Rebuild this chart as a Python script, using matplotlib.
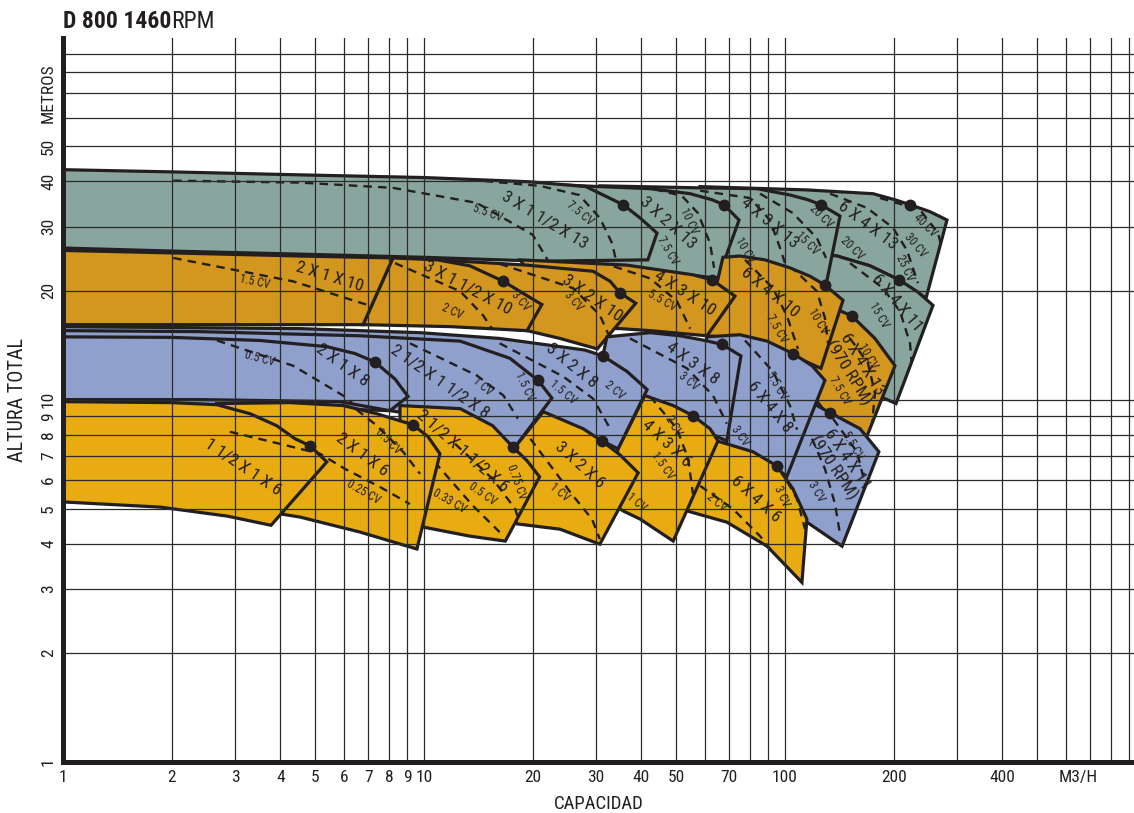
import matplotlib
matplotlib.use("Agg")
import matplotlib.pyplot as plt
from matplotlib.patches import Polygon
from matplotlib.ticker import NullLocator
from matplotlib import font_manager

_names = {f.name for f in font_manager.fontManager.ttflist}
NARROW = "DejaVu Sans"
for cand in ["Liberation Sans Narrow", "Roboto Condensed", "Open Sans Condensed", "Liberation Sans"]:
    if cand in _names:
        NARROW = cand
        break
plt.rcParams["font.family"] = [NARROW, "DejaVu Sans"]

INK = "#231f20"
GRAY = "#89a69e"
GOLD = "#d3961f"
BLUE = "#8ea0cb"
YELLOW = "#e8ac12"

# ---------------- pump coverage regions (Q m3/h, H m) ----------------
# gray row (13" impellers)
q_g_6x4x13 = [58.2, 115, 175.3, 201.7, 222, 252.2, 281, 245.8, 207, 172, 139.4, 96.9, 58.2]
h_g_6x4x13 = [38.7, 37.9, 37.0, 35.6, 34.5, 33.0, 31.3, 19.05, 21.4, 23.4, 24.9, 26.2, 26.2]
q_g_6x4x11 = [103, 139.4, 172, 207, 233.5, 257, 203, 151.4, 117.3, 103]
h_g_6x4x11 = [25.8, 24.9, 23.4, 21.4, 19.8, 18.2, 9.75, 11.1, 13.0, 14.75]
q_g_4x3x13 = [30.7, 58.2, 83.6, 103.2, 115.8, 125.8, 142, 129.9, 85.3, 58.2, 30.7]
h_g_4x3x13 = [38.9, 38.4, 38.2, 36.7, 35.6, 34.5, 32.1, 20.7, 24.3, 24.3, 24.3]
q_g_3x2x13 = [20.9, 30.7, 42.3, 54.6, 62.8, 67.7, 74.6, 65.2, 42.3, 20.9]
h_g_3x2x13 = [39.4, 38.7, 38.2, 37.0, 35.6, 34.5, 31.3, 21.6, 22.8, 24.0]
q_g_3x15x13 = [1, 2, 4.54, 10, 19.7, 28.1, 31.7, 35.6, 39.7, 44.2, 41.7, 20.9, 10, 4.54, 2, 1]
h_g_3x15x13 = [43.1, 42.5, 41.7, 41.0, 39.9, 38.7, 36.5, 34.5, 31.7, 28.8, 24.3, 24.1, 24.7, 25.2, 25.7, 26.2]

# gold row (10" impellers)
q_a_6x4x13r = [133.3, 153.3, 177.5, 201.7, 167.6, 133.3, 121.1, 121.1]
h_a_6x4x13r = [18.1, 17.0, 14.75, 12.4, 7.80, 8.86, 10.06, 15.7]
q_a_6x4x10 = [67.3, 75, 88, 103.2, 117.3, 129, 144.8, 125.8, 96.9, 75, 60.8, 62.8, 65.2]
h_a_6x4x10 = [24.7, 24.9, 24.3, 23.1, 21.9, 20.7, 18.8, 12.2, 13.7, 14.75, 15.0, 19.05, 21.5]
q_a_4x3x10 = [18.5, 23.8, 36.5, 55.6, 62.8, 72.7, 60.8, 42.3, 34.9, 23.8]
h_a_4x3x10 = [24.3, 24.0, 23.5, 22.1, 21.4, 19.3, 15.0, 15.5, 15.7, 15.9]
q_a_3x2x10 = [10.9, 19.3, 29.4, 32.8, 34.9, 38.6, 30.2, 23.8, 19.3, 14.3]
h_a_3x2x10 = [24.3, 23.5, 22.6, 21.2, 19.7, 18.45, 13.8, 14.75, 15.5, 15.9]
q_a_3x15x10 = [8.2, 10.9, 13.4, 16.6, 19.05, 21.2, 19.3, 11.8, 6.78]
h_a_3x15x10 = [24.6, 24.3, 23.4, 21.2, 19.5, 18.3, 15.5, 15.9, 16.1]
q_a_2x1x10 = [1, 2, 4.54, 8.2, 6.78, 1]
h_a_2x1x10 = [25.8, 25.4, 24.9, 24.6, 16.1, 16.1]

# blue row (8" impellers)
q_b_6x4x11r = [110, 122.6, 133.3, 161.4, 182, 143.9, 115, 96.9]
h_b_6x4x11r = [10.4, 9.63, 9.2, 8.31, 7.18, 3.94, 4.59, 5.67]
q_b_6x4x8 = [60.8, 75, 89.2, 105.2, 118.8, 129, 101.3, 85.3, 68.2, 58.2, 54.6]
h_b_6x4x8 = [14.9, 15.1, 14.5, 13.4, 12.4, 11.3, 6.15, 6.87, 7.55, 7.80, 8.86]
q_b_4x3x8 = [32.1, 42.3, 51.2, 60, 66.9, 75.5, 69, 58.2, 45.1, 37.2, 31.3]
h_b_4x3x8 = [14.9, 15.3, 15.0, 14.56, 14.2, 13.2, 7.69, 8.31, 9.56, 10.4, 13.2]
q_b_3x2x8 = [1, 4.54, 9.75, 16.2, 23.8, 27.9, 31.3, 36.5, 41.5, 34.5, 27, 20.9, 14.3, 1]
h_b_3x2x8 = [15.9, 15.7, 15.3, 14.75, 14.0, 13.7, 13.2, 11.96, 10.66, 7.31, 8.26, 9.2, 9.44, 10.0]
q_b_25x15x8 = [1, 2.4, 6.65, 12.6, 17.3, 20.7, 22.6, 17.9, 13.4, 10.4, 8.05, 1]
h_b_25x15x8 = [15.5, 15.4, 15.0, 14.5, 13.0, 11.3, 10.1, 7.41, 8.26, 8.97, 9.32, 10.0]
q_b_2x1x8 = [1, 2, 3.51, 5.38, 6.44, 7.31, 8.31, 9.03, 8.05, 5.85, 2.4, 1]
h_b_2x1x8 = [14.9, 14.85, 14.56, 14.0, 13.4, 12.7, 11.4, 10.2, 9.32, 9.87, 10.0, 10.0]

# yellow row (6" impellers)
q_y_6x4x6 = [54.6, 64.8, 81.5, 95, 105.2, 115, 111.4, 89.2, 69, 53.5, 51.2]
h_y_6x4x6 = [8.0, 7.69, 7.18, 6.56, 5.67, 4.68, 3.13, 3.94, 4.59, 4.93, 6.04]
q_y_4x3x6 = [40.9, 49, 55.6, 62, 65.2, 49, 39.7, 35.6, 31.7, 34.5]
h_y_4x3x6 = [10.26, 9.63, 9.03, 8.31, 7.69, 4.07, 4.68, 4.93, 5.32, 7.31]
q_y_3x2x6 = [21.4, 27.6, 31.1, 34.9, 39.2, 30.7, 23.8, 18.1, 16.8, 17.9]
h_y_3x2x6 = [9.26, 8.31, 7.69, 7.04, 6.28, 3.99, 4.39, 4.54, 5.32, 7.41]
q_y_25x15x6 = [8.58, 12.6, 15.5, 17.6, 19.3, 20.9, 16.8, 13.4, 9.94, 8.58]
h_y_25x15x6 = [9.63, 9.44, 8.47, 7.41, 6.78, 6.12, 4.07, 4.20, 4.45, 6.44]
q_y_2x1x6 = [2.67, 4.25, 5.97, 7.41, 9.32, 10.26, 11.07, 9.56, 6.65, 4.54, 3.3]
h_y_2x1x6 = [9.75, 9.81, 9.63, 9.14, 8.52, 7.90, 7.09, 3.87, 4.31, 4.74, 4.99]
q_y_15x1x6 = [1, 2, 2.67, 3.3, 3.91, 4.39, 4.83, 5.38, 3.77, 2.85, 1.86, 1]
h_y_15x1x6 = [9.87, 9.81, 9.68, 9.14, 8.47, 7.80, 7.46, 6.73, 4.50, 4.77, 5.05, 5.22]

# ---------------- dashed power / impeller curves ----------------
dq_g1a = [2.02, 4.54, 8.2, 14.0, 20.0, 22.0]; dh_g1a = [40.2, 39.7, 38.4, 34.9, 28.5, 24.3]
dq_g1b = [13.4, 20.9, 26.9, 30.7, 33.2, 34.0]; dh_g1b = [40.4, 38.9, 36.7, 31.7, 27.0, 24.3]
dq_g2 = [39.7, 51.8, 57.4, 62.0, 63.6]; dh_g2 = [38.9, 36.5, 32.7, 27.0, 23.1]
dq_g3a = [58.2, 80, 90.8, 96.9, 100]; dh_g3a = [37.7, 36.0, 31.3, 26.2, 23.8]
dq_g3b = [85.3, 105.2, 122.6, 129.9]; dh_g3b = [37.0, 32.7, 27.9, 24.6]
dq_g4a = [133.3, 168.7, 199.1, 217.8, 233.5]; dh_g4a = [37.0, 33.8, 29.8, 25.8, 20.96]
dq_g4b = [183.3, 236.6, 265.4, 274]; dh_g4b = [36.0, 33.4, 28.8, 25.4]
dq_g5 = [151.4, 186.9, 208.3, 222, 224.8]; dh_g5 = [23.8, 20.3, 17.5, 14.3, 12.2]
dq_a1 = [2.02, 4.34, 7.41, 9.14]; dh_a1 = [24.6, 21.2, 17.9, 16.2]
dq_a2 = [8.31, 12.6, 14.56, 15.43]; dh_a2 = [23.8, 19.9, 17.1, 15.7]
dq_a3 = [16.2, 25.9, 30.7, 32.8]; dh_a3 = [23.7, 20.3, 17.1, 14.75]
dq_a4 = [30.7, 42.3, 50.2, 54.6]; dh_a4 = [24.0, 21.6, 18.7, 15.7]
dq_a5a = [77.5, 92.6, 101.3, 108.6]; dh_a5a = [24.3, 20.3, 17.0, 13.8]
dq_a5b = [103.2, 122.6, 129, 131.6]; dh_a5b = [23.4, 19.9, 16.8, 14.3]
dq_a6 = [151.4, 169.8, 177.5, 174.2]; dh_a6 = [14.75, 12.6, 10.4, 8.58]
dq_b1 = [2.67, 4.34, 5.97, 6.32]; dh_b1 = [14.56, 12.4, 10.26, 9.81]
dq_b2 = [9.14, 14.02, 16.6, 18.2]; dh_b2 = [14.3, 11.65, 10.26, 8.86]
dq_b3 = [16.2, 24.3, 29.4, 32.8]; dh_b3 = [14.3, 11.58, 10.06, 8.31]
dq_b4 = [37.2, 53.5, 63.2, 69]; dh_b4 = [14.75, 12.2, 10.26, 8.58]
dq_b5 = [77.5, 92.6, 103.2, 108]; dh_b5 = [14.56, 11.96, 9.63, 8.26]
dq_b6a = [135.8, 158.2, 166.6, 159.3]; dh_b6a = [8.86, 7.18, 5.85, 4.68]
dq_b6b = [118.8, 129, 137.6, 142]; dh_b6b = [7.80, 6.44, 5.15, 4.26]
dq_y1 = [2.90, 3.99, 5.15, 6.04, 7.55, 9.14]; dh_y1 = [8.15, 7.55, 7.09, 6.44, 5.74, 5.15]
dq_y2 = [6.04, 7.41, 8.75, 9.75]; dh_y2 = [9.94, 8.47, 7.18, 6.24]
dq_y3a = [10.06, 11.58, 13.67, 16.2]; dh_y3a = [7.22, 6.15, 5.09, 4.31]
dq_y3b = [12.19, 15.5, 17.9, 18.5]; dh_y3b = [7.55, 6.04, 4.99, 4.48]
dq_y4 = [19.7, 25.9, 29.2, 30.7]; dh_y4 = [7.80, 5.42, 4.68, 4.12]
dq_y5 = [42.3, 50.2, 53.9, 55.6]; dh_y5 = [10.2, 8.31, 6.87, 5.49]
dq_y6a = [58.2, 71.8, 85.3, 95.6]; dh_y6a = [5.78, 4.99, 4.20, 3.63]
dq_y6b = [96.9, 108, 113.6]; dh_y6b = [6.44, 5.32, 4.39]

# ---------------- best efficiency points ----------------
q_bep = [35.6, 67.7, 125.8, 222, 207, 16.6, 34.9, 62.8, 129, 153.3, 7.31, 20.7, 31.3,
         66.9, 105.2, 133.3, 4.83, 9.32, 17.6, 31.1, 55.6, 95]
h_bep = [34.5, 34.5, 34.5, 34.5, 21.4, 21.2, 19.7, 21.4, 20.7, 17.0, 12.7, 11.3, 13.2,
         14.2, 13.4, 9.2, 7.46, 8.52, 7.41, 7.69, 9.03, 6.56]

# ---------------- pump model labels ----------------
name_txt = ["3 X 1 1/2 X 13", "3 X 2 X 13", "4 X 3 X 13", "6 X 4 X 13", "6 X 4 X 11",
            "2 X 1 X 10", "3 X 1 1/2 X 10", "3 X 2 X 10", "4 X 3 X 10", "6 X 4 X 10",
            "6 X 4 X 13\n(970 RPM)",
            "2 X 1 X 8", "2 1/2 X 1 1/2 X 8", "3 X 2 X 8", "4 X 3 X 8", "6 X 4 X 8",
            "6 X 4 X 11\n(970 RPM)",
            "1 1/2 X 1 X 6", "2 X 1 X 6", "2 1/2 X 1 1/2 X 6", "3 X 2 X 6", "4 X 3 X 6", "6 X 4 X 6"]
name_q = [21.6, 47.4, 90.8, 169.8, 204.3, 5.49, 13.2, 29.2, 52.8, 90.8, 156.3,
          5.93, 11.07, 25.7, 55.3, 90.8, 142, 3.15, 6.73, 12.8, 27.0, 46.8, 83.1]
name_h = [31.3, 30.7, 30.7, 30.2, 18.45, 21.8, 20.3, 19.05, 19.7, 19.7, 12.2,
          12.4, 11.2, 12.4, 12.6, 9.56, 6.65, 6.52, 7.04, 7.22, 6.61, 7.55, 5.32]
name_rot = [-31, -42, -40, -37, -50, -17, -28, -35, -33, -39, -58,
            -36, -35, -39, -36, -51, -56, -34, -37, -41, -42, -43, -42]

# ---------------- power labels ----------------
cv_txt = ["5.5 CV", "7.5 CV", "10 CV", "7.5 CV", "10 CV", "15 CV", "20 CV", "20 CV", "40 CV",
          "30 CV", "25 CV", "15 CV",
          "1.5 CV", "2 CV", "3 CV", "3 CV", "5.5 CV", "10 CV", "7.5 CV", "10 CV", "7.5 CV",
          "0.5 CV", "1 CV", "1.5 CV", "1.5 CV", "2 CV", "3 CV", "3 CV", "5.5 CV", "5.5 CV", "3 CV",
          "0.5 CV", "0.25 CV", "0.33 CV", "0.5 CV", "0.75 CV", "1 CV", "1 CV", "2 CV", "1.5 CV",
          "3 CV", "2 CV"]
cv_q = [15.0, 27.0, 54.2, 47.4, 77.5, 115, 125.8, 153.3, 244.2, 230.6, 215, 182,
        3.40, 11.96, 18.5, 25.9, 45.6, 123.4, 95, 169.8, 142,
        3.51, 14.5, 19.05, 24.3, 33.8, 53.9, 75, 95, 154.3, 122.6,
        7.95, 6.78, 11.8, 14.56, 18.1, 23.8, 38.9, 49, 45.9, 98.1, 64.8]
cv_h = [32.7, 32.7, 31.1, 25.7, 25.8, 27.0, 32.1, 26.2, 30.2, 26.7, 23.1, 17.1,
        21.2, 17.5, 18.7, 18.7, 18.7, 16.45, 15.7, 13.2, 10.6,
        13.0, 10.86, 10.86, 10.5, 10.6, 11.2, 7.95, 10.9, 7.46, 5.56,
        7.65, 5.56, 5.25, 5.49, 5.93, 5.56, 5.22, 8.47, 6.56, 5.42, 5.22]
cv_rot = [-20, -40, -65, -60, -60, -45, -45, -45, -45, -50, -65, -60,
          -12, -25, -50, -50, -30, -60, -60, -60, -60,
          -15, -40, -65, -40, -40, -40, -55, -60, -60, -60,
          -45, -30, -30, -35, -70, -40, -40, -60, -55, -65, -40]

# ---------------- axes ticks / grid ----------------
x_grid = [1, 2, 3, 4, 5, 6, 7, 8, 9, 10, 20, 30, 40, 50, 60, 70, 80, 90,
          100, 200, 300, 400, 500, 600, 700, 800, 900]
y_grid = [2, 3, 4, 5, 6, 7, 8, 9, 10, 20, 30, 40, 50, 60, 70, 80, 90]
x_tick_pos = [1, 2, 3, 4, 5, 6, 7, 8, 9, 10, 20, 30, 40, 50, 70, 100, 200, 400, 650]
x_tick_lab = ["1", "2", "3", "4", "5", "6", "7", "8", "9", "10", "20", "30", "40", "50",
              "70", "100", "200", "400", "M3/H"]
y_tick_pos = [1, 2, 3, 4, 5, 6, 7, 8, 9, 10, 20, 30, 40, 50, 70]
y_tick_lab = ["1", "2", "3", "4", "5", "6", "7", "8", "9", "10", "20", "30", "40", "50", "METROS"]

# ---------------- drawing order (back to front) ----------------
regions = [
    (q_g_6x4x13, h_g_6x4x13, GRAY, [(dq_g4a, dh_g4a), (dq_g4b, dh_g4b)]),
    (q_g_6x4x11, h_g_6x4x11, GRAY, [(dq_g5, dh_g5)]),
    (q_g_4x3x13, h_g_4x3x13, GRAY, [(dq_g3a, dh_g3a), (dq_g3b, dh_g3b)]),
    (q_g_3x2x13, h_g_3x2x13, GRAY, [(dq_g2, dh_g2)]),
    (q_g_3x15x13, h_g_3x15x13, GRAY, [(dq_g1a, dh_g1a), (dq_g1b, dh_g1b)]),
    (q_a_6x4x13r, h_a_6x4x13r, GOLD, [(dq_a6, dh_a6)]),
    (q_a_6x4x10, h_a_6x4x10, GOLD, [(dq_a5a, dh_a5a), (dq_a5b, dh_a5b)]),
    (q_a_4x3x10, h_a_4x3x10, GOLD, [(dq_a4, dh_a4)]),
    (q_a_3x2x10, h_a_3x2x10, GOLD, [(dq_a3, dh_a3)]),
    (q_a_3x15x10, h_a_3x15x10, GOLD, [(dq_a2, dh_a2)]),
    (q_a_2x1x10, h_a_2x1x10, GOLD, [(dq_a1, dh_a1)]),
    (q_b_6x4x11r, h_b_6x4x11r, BLUE, [(dq_b6a, dh_b6a), (dq_b6b, dh_b6b)]),
    (q_b_6x4x8, h_b_6x4x8, BLUE, [(dq_b5, dh_b5)]),
    (q_b_4x3x8, h_b_4x3x8, BLUE, [(dq_b4, dh_b4)]),
    (q_b_3x2x8, h_b_3x2x8, BLUE, [(dq_b3, dh_b3)]),
    (q_b_25x15x8, h_b_25x15x8, BLUE, [(dq_b2, dh_b2)]),
    (q_b_2x1x8, h_b_2x1x8, BLUE, [(dq_b1, dh_b1)]),
    (q_y_6x4x6, h_y_6x4x6, YELLOW, [(dq_y6a, dh_y6a), (dq_y6b, dh_y6b)]),
    (q_y_4x3x6, h_y_4x3x6, YELLOW, [(dq_y5, dh_y5)]),
    (q_y_3x2x6, h_y_3x2x6, YELLOW, [(dq_y4, dh_y4)]),
    (q_y_25x15x6, h_y_25x15x6, YELLOW, [(dq_y3a, dh_y3a), (dq_y3b, dh_y3b)]),
    (q_y_2x1x6, h_y_2x1x6, YELLOW, [(dq_y1, dh_y1), (dq_y2, dh_y2)]),
    (q_y_15x1x6, h_y_15x1x6, YELLOW, [(dq_y1, dh_y1)]),
]

W, H = 1134, 813
fig = plt.figure(figsize=(W / 100, H / 100), dpi=100)
ax = fig.add_axes([63 / W, 51 / H, (W - 63) / W, 724 / H])
ax.set_xscale("log")
ax.set_yscale("log")
ax.set_xlim(1, 10 ** ((W - 63) / 361))
ax.set_ylim(1, 99.5)

z = 1.0
for q, h, col, dashes in regions:
    poly = Polygon(list(zip(q, h)), closed=True, facecolor=col, edgecolor=INK,
                   linewidth=2.3, joinstyle="miter", zorder=z)
    ax.add_patch(poly)
    for dq, dh in dashes:
        ln, = ax.plot(dq, dh, color=INK, linewidth=1.7, linestyle=(0, (3.6, 2.6)),
                      zorder=z + 0.005, dash_capstyle="butt")
        ln.set_clip_path(poly)
    z += 0.01

# grid lines over the coloured fields
for xv in x_grid:
    ax.axvline(xv, color="#2a2a2a", linewidth=0.9, zorder=3)
for yv in y_grid:
    ax.axhline(yv, color="#2a2a2a", linewidth=0.9, zorder=3)

ax.plot(q_bep, h_bep, linestyle="none", marker="o", markersize=7.5, color=INK, zorder=5)

for s, q, h, r in zip(name_txt, name_q, name_h, name_rot):
    ax.text(q, h, s, rotation=r, rotation_mode="anchor", ha="center", va="center",
            fontsize=12.5, color=INK, zorder=6, multialignment="center", linespacing=0.95)
for s, q, h, r in zip(cv_txt, cv_q, cv_h, cv_rot):
    ax.text(q, h, s, rotation=r, rotation_mode="anchor", ha="center", va="center",
            fontsize=8.5, color=INK, zorder=6)

ax.xaxis.set_minor_locator(NullLocator())
ax.yaxis.set_minor_locator(NullLocator())
ax.set_xticks(x_tick_pos)
ax.set_xticklabels(x_tick_lab, fontsize=12.5, color=INK)
ax.set_yticks(y_tick_pos)
ax.set_yticklabels(y_tick_lab, fontsize=12.5, color=INK, rotation=90, va="center", ha="right")
ax.tick_params(which="both", length=0)
ax.tick_params(axis="x", pad=6)
ax.tick_params(axis="y", pad=5)

for side in ["top", "right"]:
    ax.spines[side].set_visible(False)
for side in ["left", "bottom"]:
    ax.spines[side].set_linewidth(3.6)
    ax.spines[side].set_color(INK)
    ax.spines[side].set_zorder(7)

ax.set_xlabel("CAPACIDAD", fontsize=13.5, color=INK, labelpad=7)
fig.text(18 / W, 1 - 400 / H, "ALTURA TOTAL", rotation=90, ha="center", va="center",
         fontsize=14.5, color=INK)

t1 = fig.text(63 / W, 1 - 21 / H, "D 800 1460", fontsize=17, fontweight="bold",
              ha="left", va="center", color=INK)
ax.annotate("RPM", xy=(1, 0), xycoords=t1, ha="left", va="bottom", fontsize=17,
            color=INK, annotation_clip=False)

fig.savefig("out.png", dpi=100)
